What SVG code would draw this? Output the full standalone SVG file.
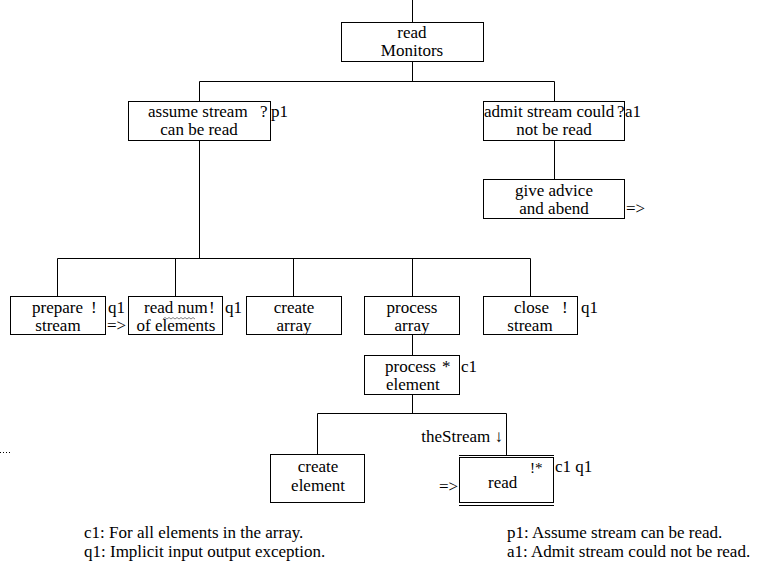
<svg xmlns="http://www.w3.org/2000/svg" width="769" height="570" viewBox="0 0 769 570">
<style>
rect.box{fill:#fff;stroke:#000;stroke-width:1}
.c line,.c polyline{stroke:#000;stroke-width:1;fill:none}
text{font-family:"Liberation Serif","Times New Roman",serif;font-size:17px;fill:#000}
.m{text-anchor:middle}
.e{text-anchor:end}
</style>
<rect width="769" height="570" fill="#fff"/>
<g id="connectors" class="c">
<line x1="412.5" y1="0" x2="412.5" y2="22"/>
<line x1="412.5" y1="61" x2="412.5" y2="81.5"/>
<line x1="199.5" y1="81.5" x2="554.5" y2="81.5"/>
<line x1="199.5" y1="81.5" x2="199.5" y2="101"/>
<line x1="554.5" y1="81.5" x2="554.5" y2="101"/>
<line x1="554.5" y1="140" x2="554.5" y2="179"/>
<line x1="199.5" y1="140" x2="199.5" y2="258.5"/>
<line x1="57.5" y1="258.5" x2="530.5" y2="258.5"/>
<line x1="57.5" y1="258.5" x2="57.5" y2="297"/>
<line x1="175.5" y1="258.5" x2="175.5" y2="297"/>
<line x1="293.5" y1="258.5" x2="293.5" y2="297"/>
<line x1="412.5" y1="258.5" x2="412.5" y2="297"/>
<line x1="530.5" y1="258.5" x2="530.5" y2="297"/>
<line x1="412.5" y1="335" x2="412.5" y2="355"/>
<line x1="412.5" y1="394" x2="412.5" y2="413.5"/>
<line x1="317.5" y1="413.5" x2="506.5" y2="413.5"/>
<line x1="317.5" y1="413.5" x2="317.5" y2="455"/>
<line x1="506.5" y1="413.5" x2="506.5" y2="455"/>
<line x1="0" y1="452.5" x2="11" y2="452.5" stroke-dasharray="1 2"/>
</g>
<g id="n-read-monitors">
<rect class="box" x="341.5" y="22.5" width="142" height="39"/>
<text class="m" x="412" y="38">read</text>
<text class="m" x="412" y="56">Monitors</text>
</g>
<g id="n-assume">
<rect class="box" x="128.5" y="101.5" width="142" height="39"/>
<text x="148" y="117">assume stream</text>
<text x="260" y="117">?</text>
<text x="271" y="117">p1</text>
<text class="m" x="199" y="135">can be read</text>
</g>
<g id="n-admit">
<rect class="box" x="483.5" y="101.5" width="141" height="39"/>
<text x="484" y="117">admit stream could</text>
<text x="617" y="117">?</text>
<text x="625" y="117">a1</text>
<text class="m" x="554" y="135">not be read</text>
</g>
<g id="n-give-advice">
<rect class="box" x="483.5" y="179.5" width="141" height="39"/>
<text class="m" x="554" y="196">give advice</text>
<text class="m" x="554" y="214">and abend</text>
<text x="626" y="214">=&gt;</text>
</g>
<g id="n-prepare">
<rect class="box" x="10.5" y="296.5" width="95" height="38"/>
<text x="32" y="313">prepare</text>
<text x="91" y="313">!</text>
<text class="m" x="58" y="331">stream</text>
<text x="108" y="313">q1</text>
<text x="107" y="331">=&gt;</text>
</g>
<g id="n-read-num">
<rect class="box" x="128.5" y="296.5" width="94" height="38"/>
<text x="144" y="313">read num</text>
<text x="209" y="313">!</text>
<path d="M163 319 l2 -1.5 l2 1.5 l2 -1.5 l2 1.5 l2 -1.5 l2 1.5 l2 -1.5 l2 1.5 l2 -1.5 l2 1.5 l2 -1.5 l2 1.5 l2 -1.5 l2 1.5 l2 -1.5 l2 1.5" fill="none" stroke="#666" stroke-width="0.8"/>
<text class="m" x="176" y="331">of elements</text>
<text x="225" y="313">q1</text>
</g>
<g id="n-create-array">
<rect class="box" x="246.5" y="296.5" width="95" height="38"/>
<text class="m" x="294" y="313">create</text>
<text class="m" x="294" y="331">array</text>
</g>
<g id="n-process-array">
<rect class="box" x="364.5" y="296.5" width="95" height="38"/>
<text class="m" x="412" y="313">process</text>
<text class="m" x="412" y="331">array</text>
</g>
<g id="n-close">
<rect class="box" x="483.5" y="296.5" width="94" height="38"/>
<text x="514" y="313">close</text>
<text x="562" y="313">!</text>
<text class="m" x="530" y="331">stream</text>
<text x="581" y="313">q1</text>
</g>
<g id="n-process-element">
<rect class="box" x="364.5" y="355.5" width="95" height="39"/>
<text x="385" y="372">process</text>
<text x="442" y="372">*</text>
<text x="386" y="390">element</text>
<text x="461" y="372">c1</text>
</g>
<g id="n-create-element">
<rect class="box" x="270.5" y="454.5" width="94" height="48"/>
<text class="m" x="318" y="472">create</text>
<text class="m" x="318" y="491">element</text>
</g>
<g id="n-read">
<rect class="box" x="459.5" y="457.5" width="94" height="45"/>
<line x1="459" y1="455.5" x2="554" y2="455.5" stroke="#000"/>
<line x1="459" y1="505.5" x2="554" y2="505.5" stroke="#000"/>
<text x="488" y="488">read</text>
<text x="530" y="473" style="font-size:15px">!*</text>
<text x="555" y="472">c1 q1</text>
<text x="439" y="492">=&gt;</text>
<text class="e" x="503" y="442">theStream ↓</text>
</g>
<g id="legend">
<text x="84" y="538">c1: For all elements in the array.</text>
<text x="84" y="557">q1: Implicit input output exception.</text>
<text x="507" y="538">p1: Assume stream can be read.</text>
<text x="507" y="557">a1: Admit stream could not be read.</text>
</g>
</svg>
